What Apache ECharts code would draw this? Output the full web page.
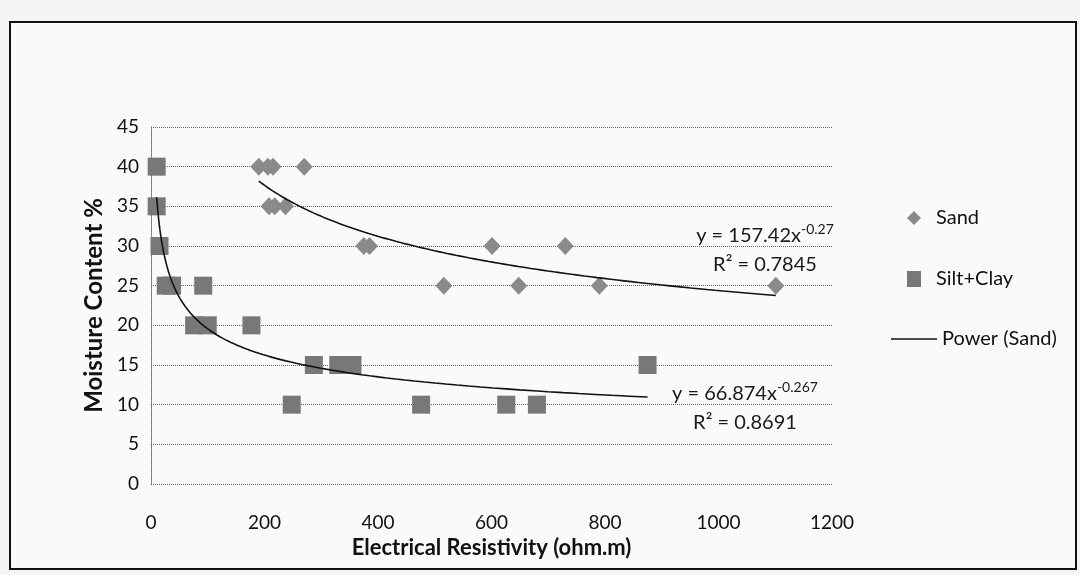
<!DOCTYPE html>
<html>
<head>
<meta charset="utf-8">
<script src="https://cdn.jsdelivr.net/npm/echarts@6/dist/echarts.min.js"></script>
<style>
html,body{margin:0;padding:0;background:#f5f5f5;}
#chart{width:1080px;height:575px;}
</style>
</head>
<body>
<div id="chart"></div>
<script>
// ---- data ----
const sandX = [190, 206, 215, 270, 208, 218, 237, 375, 385, 601, 730, 516, 648, 790, 1101];
const sandY = [40, 40, 40, 40, 35, 35, 35, 30, 30, 30, 30, 25, 25, 25, 25];
const siltX = [10, 10, 15, 26, 37, 92, 76, 100, 177, 287, 330, 355, 248, 476, 626, 680, 875];
const siltY = [40, 35, 30, 25, 25, 25, 20, 20, 20, 15, 15, 15, 10, 10, 10, 10, 15];
// trendline coefficients as printed on the chart (y = a * x^b)
const sandTrend = { a: 157.42, b: -0.27, r2: '0.7845', aTxt: '157.42', bTxt: '-0.27' };
const siltTrend = { a: 66.874, b: -0.267, r2: '0.8691', aTxt: '66.874', bTxt: '-0.267' };
const xAxisRange = [0, 1200, 200];
const yAxisRange = [0, 45, 5];

function pairs(xs, ys) { return xs.map((x, i) => [x, ys[i]]); }
function trendLine(t, xs) {
  const x0 = Math.min(...xs), x1 = Math.max(...xs);
  const pts = [];
  const n = 120;
  for (let i = 0; i <= n; i++) {
    const x = x0 * Math.pow(x1 / x0, i / n);
    pts.push([x, t.a * Math.pow(x, t.b)]);
  }
  return pts;
}

const FONT = 'Lato, "Open Sans", sans-serif';
const chart = echarts.init(document.getElementById('chart'));

function eqText(t, cx, cy) {
  return [
    {
      type: 'text', x: cx, y: cy,
      style: {
        text: '{m|y = ' + t.aTxt + 'x}{s|' + t.bTxt + '}',
        align: 'center', verticalAlign: 'middle',
        rich: {
          m: { fontSize: 20, fontFamily: FONT, fill: '#1a1a1a', lineHeight: 24, verticalAlign: 'bottom' },
          s: { fontSize: 14, fontFamily: FONT, fill: '#1a1a1a', lineHeight: 24, verticalAlign: 'top' }
        }
      }
    },
    {
      type: 'text', x: cx, y: cy + 31,
      style: {
        text: 'R² = ' + t.r2, align: 'center', verticalAlign: 'middle',
        font: '20px ' + FONT, fill: '#1a1a1a'
      }
    }
  ];
}

const option = {
  backgroundColor: '#f5f5f5',
  animation: false,
  grid: { left: 151, right: 248, top: 127, bottom: 91 },
  xAxis: {
    type: 'value', min: xAxisRange[0], max: xAxisRange[1], interval: xAxisRange[2],
    name: 'Electrical Resistivity (ohm.m)', nameLocation: 'middle', nameGap: 46,
    nameTextStyle: { fontFamily: FONT, fontSize: 22, fontWeight: 'bold', color: '#111' },
    axisLine: { show: false }, axisTick: { show: false }, splitLine: { show: false },
    axisLabel: { margin: 29, fontFamily: FONT, fontSize: 19, color: '#111',
      formatter: v => String(v) }
  },
  yAxis: {
    type: 'value', min: yAxisRange[0], max: yAxisRange[1], interval: yAxisRange[2],
    name: 'Moisture Content %', nameLocation: 'middle', nameGap: 45,
    nameTextStyle: { fontFamily: FONT, fontSize: 24, fontWeight: 'bold', color: '#111' },
    axisLine: { show: true, lineStyle: { color: '#666', type: 'dotted', width: 1 } },
    axisTick: { show: false },
    splitLine: { show: true, lineStyle: { color: '#666', type: 'dotted', width: 1 } },
    axisLabel: { margin: 12, fontFamily: FONT, fontSize: 19, color: '#111' }
  },
  legend: [
    { data: ['Sand'], left: 902, top: 203, itemWidth: 14, itemHeight: 14,
      textStyle: { fontFamily: FONT, fontSize: 20, color: '#111', padding: [0, 0, 0, 10] } },
    { data: ['Silt+Clay'], left: 902, top: 264, itemWidth: 14, itemHeight: 16,
      textStyle: { fontFamily: FONT, fontSize: 20, color: '#111', padding: [0, 0, 0, 10] } },
    { data: [{ name: 'Power (Sand)', icon: 'rect' }], left: 886, top: 324, itemWidth: 46, itemHeight: 1.6,
      textStyle: { fontFamily: FONT, fontSize: 20, color: '#111' } }
  ],
  series: [
    { name: 'Sand', type: 'scatter', symbol: 'diamond', symbolSize: [17, 18],
      itemStyle: { color: '#8a8a8a', opacity: 1 }, data: pairs(sandX, sandY), z: 3 },
    { name: 'Silt+Clay', type: 'scatter', symbol: 'rect', symbolSize: 18,
      itemStyle: { color: '#787878', opacity: 1 }, data: pairs(siltX, siltY), z: 3 },
    { name: 'Power (Sand)', type: 'line', symbol: 'none', smooth: false,
      lineStyle: { color: '#111', width: 1.6 }, itemStyle: { color: '#111' },
      data: trendLine(sandTrend, sandX), z: 4 },
    { name: 'Power (Silt+Clay)', type: 'line', symbol: 'none', smooth: false,
      lineStyle: { color: '#111', width: 1.6 }, itemStyle: { color: '#111' },
      data: trendLine(siltTrend, siltX), z: 4 }
  ],
  graphic: [
    { type: 'rect', shape: { x: 10, y: 22, width: 1066, height: 547 }, z: -10,
      style: { fill: '#fafafa', stroke: '#111', lineWidth: 2 } }
  ].concat(eqText(sandTrend, 765, 234)).concat(eqText(siltTrend, 745, 392))
};
chart.setOption(option);
</script>
</body>
</html>
